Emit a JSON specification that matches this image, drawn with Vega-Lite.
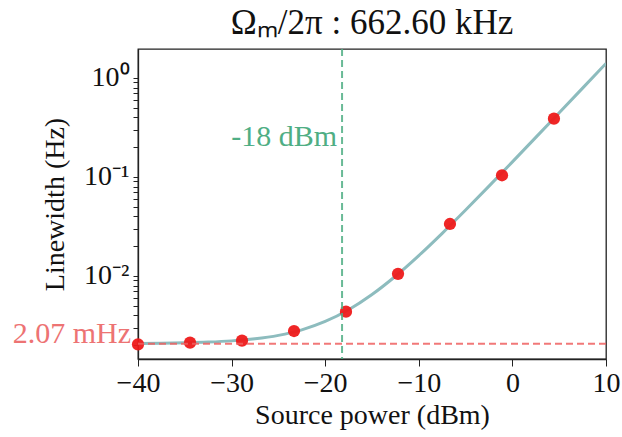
{
  "$schema": "https://vega.github.io/schema/vega-lite/v6.json",
  "width": 468,
  "height": 310,
  "autosize": "none",
  "padding": {"left": 138, "top": 49, "right": 16, "bottom": 78},
  "background": "white",
  "config": {
    "font": "Liberation Serif",
    "view": {"stroke": "#222222", "strokeWidth": 1.3},
    "axis": {"grid": false, "domainColor": "#222222", "tickColor": "#222222", "labelColor": "#111111", "titleColor": "#111111", "labelFont": "Liberation Serif", "titleFont": "Liberation Serif", "titleFontWeight": "normal"}
  },
  "title": {"text": "Ωₘ/2π : 662.60 kHz", "fontSize": 35, "fontWeight": "normal", "font": "Liberation Serif", "color": "#111111", "anchor": "middle", "offset": 7, "frame": "group"},
  "datasets": {
    "curve": [
      {"x": -40, "y": 0.002084}, {"x": -37.5, "y": 0.002095}, {"x": -35, "y": 0.002114}, {"x": -32.5, "y": 0.002149},
      {"x": -30, "y": 0.00221}, {"x": -27.5, "y": 0.002319}, {"x": -25, "y": 0.002513}, {"x": -22.5, "y": 0.002857},
      {"x": -20, "y": 0.00347}, {"x": -17.5, "y": 0.00456}, {"x": -15, "y": 0.0065}, {"x": -12.5, "y": 0.00994},
      {"x": -10, "y": 0.01607}, {"x": -7.5, "y": 0.02697}, {"x": -5, "y": 0.04634}, {"x": -2.5, "y": 0.08079},
      {"x": 0, "y": 0.1421}, {"x": 2.5, "y": 0.251}, {"x": 5, "y": 0.4448}, {"x": 7.5, "y": 0.7893}, {"x": 10, "y": 1.402}
    ],
    "points": [
      {"x": -40, "y": 0.00204}, {"x": -34.44, "y": 0.00212}, {"x": -28.89, "y": 0.00222},
      {"x": -23.33, "y": 0.00278}, {"x": -17.78, "y": 0.00436}, {"x": -12.22, "y": 0.0105},
      {"x": -6.67, "y": 0.0335}, {"x": -1.11, "y": 0.104}, {"x": 4.44, "y": 0.388}
    ]
  },
  "layer": [
    {
      "data": {"name": "curve"},
      "mark": {"type": "line", "color": "#8dbcbe", "strokeWidth": 3, "interpolate": "monotone", "clip": true},
      "encoding": {
        "x": {"field": "x", "type": "quantitative", "scale": {"domain": [-40, 10], "nice": false, "zero": false},
          "axis": {"values": [-40, -30, -20, -10, 0, 10], "title": "Source power (dBm)", "titleFontSize": 28, "labelFontSize": 28, "tickSize": 7, "labelPadding": 3, "titlePadding": 4,
            "labelExpr": "replace(datum.label, '-', '−')", "domainWidth": 1.3, "labelFlush": false}},
        "y": {"field": "y", "type": "quantitative", "scale": {"type": "log", "domain": [0.00145, 1.96], "nice": false},
          "axis": {"values": [0.002, 0.003, 0.004, 0.005, 0.006, 0.007, 0.008, 0.009, 0.01, 0.02, 0.03, 0.04, 0.05, 0.06, 0.07, 0.08, 0.09, 0.1, 0.2, 0.3, 0.4, 0.5, 0.6, 0.7, 0.8, 0.9, 1],
            "title": "Linewidth (Hz)", "titleFontSize": 28, "labelFontSize": 28, "tickSize": 5, "labelPadding": 4, "titlePadding": 14,
            "labelExpr": "datum.value == 1 ? '10⁰' : datum.value == 0.1 ? '10⁻¹' : datum.value == 0.01 ? '10⁻²' : ''", "labelOverlap": false, "domainWidth": 1.3, "labelFlush": false}}
      }
    },
    {
      "data": {"name": "points"},
      "mark": {"type": "circle", "color": "#ee1a1a", "opacity": 0.95, "size": 150},
      "encoding": {
        "x": {"field": "x", "type": "quantitative"},
        "y": {"field": "y", "type": "quantitative"}
      }
    },
    {
      "data": {"values": [{"y": 0.00207}]},
      "mark": {"type": "rule", "color": "#ee6060", "opacity": 0.85, "strokeWidth": 2, "strokeDash": [7, 4]},
      "encoding": {"y": {"field": "y", "type": "quantitative"}}
    },
    {
      "data": {"values": [{"x": -18.2}]},
      "mark": {"type": "rule", "color": "#4fae84", "opacity": 0.85, "strokeWidth": 2, "strokeDash": [7, 4]},
      "encoding": {"x": {"field": "x", "type": "quantitative"}}
    },
    {
      "data": {"values": [{"x": -18.2, "y": 0.253, "label": "-18 dBm"}]},
      "mark": {"type": "text", "color": "#4fae84", "fontSize": 30, "align": "right", "baseline": "middle", "dx": -5, "font": "Liberation Serif"},
      "encoding": {"x": {"field": "x", "type": "quantitative"}, "y": {"field": "y", "type": "quantitative"}, "text": {"field": "label"}}
    },
    {
      "data": {"values": [{"x": -40, "y": 0.00207, "label": "2.07 mHz"}]},
      "mark": {"type": "text", "color": "#ec6464", "opacity": 0.9, "fontSize": 30, "align": "right", "baseline": "alphabetic", "dx": -7, "dy": -1, "font": "Liberation Serif"},
      "encoding": {"x": {"field": "x", "type": "quantitative"}, "y": {"field": "y", "type": "quantitative"}, "text": {"field": "label"}}
    }
  ]
}
